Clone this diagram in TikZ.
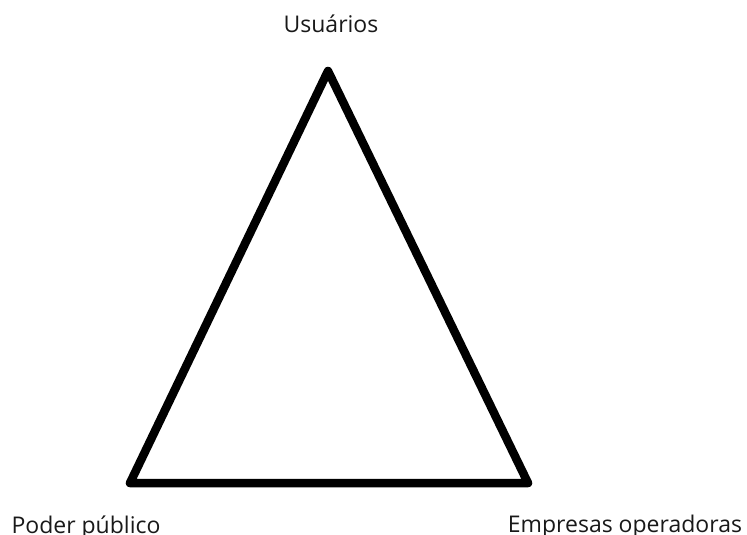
\documentclass[tikz,border=0pt]{standalone}
\usepackage{fontspec}
\setmainfont{Open Sans}
\begin{document}
\begin{tikzpicture}[x=1pt,y=-1pt,
  edge/.style={line width=8.5pt,line join=round,line cap=round},
  lbl/.style={font=\fontsize{23}{27}\selectfont,text=black!90,inner sep=0pt,anchor=base}]
\useasboundingbox (0,0) rectangle (747,535);
\coordinate (top) at (328,71);
\coordinate (bl) at (130,483);
\coordinate (br) at (528,483);
\draw[edge] (top) -- (bl) -- (br) -- cycle;
\node[lbl] (u) at (331,33) {Usuários};
\node[lbl] (p) at (86,533) {Poder público};
\node[lbl] (e) at (625,532) {Empresas operadoras};
\end{tikzpicture}
\end{document}
